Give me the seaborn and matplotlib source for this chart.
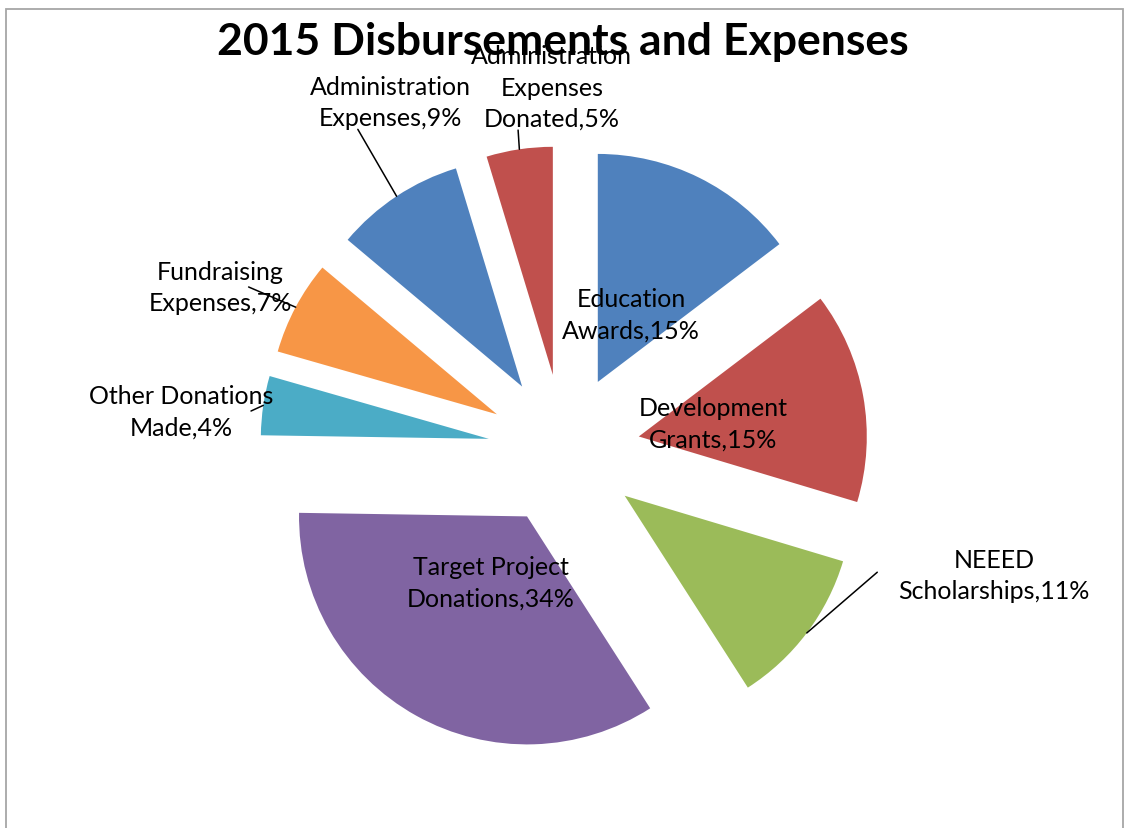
import numpy as np
import matplotlib
matplotlib.use("Agg")
import matplotlib.pyplot as plt
from matplotlib.patches import Rectangle
import seaborn as sns

# ---- data (slices clockwise from 12 o'clock) ----
categories = ["Education Awards", "Development Grants", "NEEED Scholarships",
              "Target Project Donations", "Other Donations Made",
              "Fundraising Expenses", "Administration Expenses",
              "Administration Expenses Donated"]
label_names = ["Education\nAwards", "Development\nGrants", "NEEED\nScholarships",
               "Target Project\nDonations", "Other Donations\nMade",
               "Fundraising\nExpenses", "Administration\nExpenses",
               "Administration\nExpenses\nDonated"]
values = [14.7, 15.0, 11.3, 34.4, 4.2, 6.7, 9.2, 4.7]
title = "2015 Disbursements and Expenses"

# ---- style ----
colors = ["#4F81BD", "#C0504D", "#9BBB59", "#8064A2",
          "#4BACC6", "#F79646", "#4F81BD", "#C0504D"]
# outside label positions (data units, pie radius = 1); None -> inside label
outside_pos = [None, None, (1.886, -0.548), None, (-1.680, 0.171),
               (-1.509, 0.715), (-0.763, 1.526), (-0.053, 1.592)]
# where the leader line meets the label (fraction of the label box)
leader_rel = [None, None, (-0.11, 0.55), None, (0.88, 0.5),
              (0.7, 0.5), (0.3, 0.0), (0.29, 0.0)]

sns.set_theme(style="white")
plt.rcParams["font.family"] = ["Lato", "DejaVu Sans"]

W, H, DPI = 1124, 829, 100
fig = plt.figure(figsize=(W / DPI, H / DPI), dpi=DPI)
fig.patch.set_facecolor("white")
ax = fig.add_axes([0, 0, 1, 1])

palette = sns.color_palette(colors)
wedges, _ = ax.pie(values, colors=palette, explode=[1 / 3] * len(values),
                   startangle=90, counterclock=False, radius=1.0,
                   wedgeprops=dict(linewidth=0))

total = sum(values)
R_PX, CX, CY = 228.0, 564.0, 451.0
ax.set_aspect("auto")
ax.set_xlim(-CX / R_PX, (W - CX) / R_PX)
ax.set_ylim(-(H - CY) / R_PX, CY / R_PX)
ax.axis("off")

label_fs = 18
lsp = 1.45
for w, name, v, pos, rel in zip(wedges, label_names, values, outside_pos, leader_rel):
    txt = f"{name},{round(v / total * 100):d}%"
    mid = np.deg2rad((w.theta1 + w.theta2) / 2)
    cx, cy = w.center
    if pos is None:
        d = 0.33
        ax.text(cx + d * np.cos(mid), cy + d * np.sin(mid), txt,
                ha="center", va="center", fontsize=label_fs, color="black",
                linespacing=lsp, multialignment="center")
    else:
        arc = (cx + w.r * np.cos(mid), cy + w.r * np.sin(mid))
        ax.annotate(txt, xy=arc, xytext=pos, ha="center", va="center",
                    fontsize=label_fs, color="black", linespacing=lsp,
                    multialignment="center",
                    arrowprops=dict(arrowstyle="-", color="black", lw=1.1,
                                    shrinkA=0, shrinkB=0, relpos=rel,
                                    patchA=None))

fig.text(563 / W, 1 - 42 / H, title, ha="center", va="center",
         fontsize=32, fontweight="bold", color="black")

fig.patches.append(Rectangle((6 / W, -0.01), 1117 / W, 1.01 - 10 / H,
                             transform=fig.transFigure, fill=False,
                             edgecolor="#A6A6A6", linewidth=1.3))

fig.savefig("out.png", dpi=DPI, facecolor="white")
